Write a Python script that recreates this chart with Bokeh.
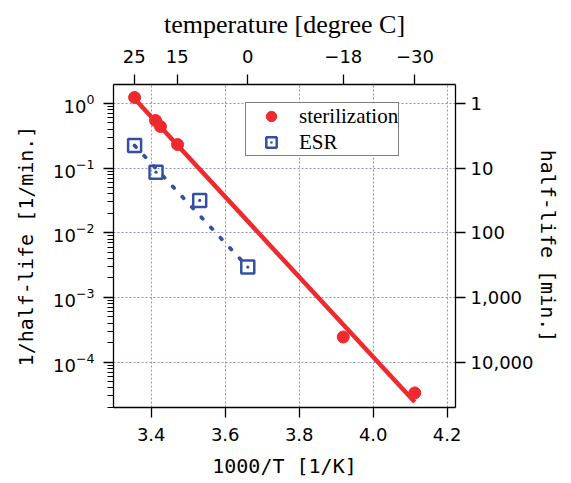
import numpy as np
from bokeh.plotting import figure
from bokeh.models import (LogAxis, LinearAxis, FixedTicker, Range1d, Legend,
                          LegendItem, NumeralTickFormatter)
from bokeh.embed import file_html
from bokeh.resources import INLINE

# ---- data ----
ster_x = [3.355, 3.4116, 3.425, 3.4711, 3.919, 4.1124]      # 1000/T [1/K]
ster_y = [1.24, 0.546, 0.441, 0.232, 2.44e-4, 3.33e-5]      # 1/half-life [1/min]
esr_x = [3.355, 3.413, 3.531, 3.661]
esr_y = [0.224, 0.0867, 0.0317, 0.00295]

x_ticks = [3.4, 3.6, 3.8, 4.0, 4.2]
temp_ticks_c = [25, 15, 0, -18, -30]
temp_labels = ["25", "15", "0", "\u221218", "\u221230"]
halflife_ticks = [1, 10, 100, 1000, 10000]
halflife_labels = ["1", "10", "100", "1,000", "10,000"]

RED = "#EE2A2E"
BLUE = "#3450A2"
GRID = "#9090CC"
SANS = "DejaVu Sans"
MONO = "DejaVu Sans Mono"
SERIF = "Liberation Serif"

# regression line for sterilization (Arrhenius fit)
coef = np.polyfit(np.array(ster_x), np.log10(np.array(ster_y)), 1)
fit_x = [min(ster_x), max(ster_x)]
fit_y = [10 ** np.polyval(coef, v) for v in fit_x]

p = figure(frame_width=342, frame_height=323,
           x_range=Range1d(3.298, 4.2225), y_range=Range1d(1.98e-5, 1.97),
           y_axis_type="log", output_backend="svg", toolbar_location=None,
           min_border_left=113, min_border_right=110,
           min_border_top=84, min_border_bottom=71,
           background_fill_color="white", border_fill_color="white")
p.outline_line_color = None

# lines
p.line(fit_x, fit_y, line_color=RED, line_width=4.5)
p.line([esr_x[0], esr_x[-1]], [esr_y[0], esr_y[-1]], line_color=BLUE,
       line_width=3.8, line_dash="2 12", line_cap="round")

r_ster = p.scatter(ster_x, ster_y, marker="circle", size=12,
                   fill_color=RED, line_color=RED)
r_esr = p.scatter(esr_x, esr_y, marker="square_dot", size=13,
                  fill_color=None, line_color=BLUE, line_width=2.5)

# grids
for g in (p.xgrid[0], p.ygrid[0]):
    g.grid_line_color = GRID
    g.grid_line_dash = "2 2"
    g.grid_line_width = 1

# bottom axis
xa = p.xaxis[0]
xa.ticker = FixedTicker(ticks=x_ticks)
xa.formatter = NumeralTickFormatter(format="0.0")
xa.axis_label = "1000/T [1/K]"

# left axis
ya = p.yaxis[0]
ya.axis_label = "1/half-life [1/min.]"

# top axis
top = LinearAxis(ticker=FixedTicker(ticks=[1000.0 / (c + 273.15) for c in temp_ticks_c]),
                 major_label_overrides={1000.0 / (c + 273.15): lab
                                        for c, lab in zip(temp_ticks_c, temp_labels)},
                 axis_label="temperature [degree C]")
p.add_layout(top, "above")

# right axis
right = LogAxis(ticker=FixedTicker(ticks=[1.0 / h for h in halflife_ticks]),
                major_label_overrides={1.0 / h: lab
                                       for h, lab in zip(halflife_ticks, halflife_labels)},
                axis_label="half-life [min.]")
p.add_layout(right, "right")

for ax in (xa, ya, top, right):
    ax.axis_line_color = "black"
    ax.axis_line_width = 1.3
    ax.major_tick_line_color = "black"
    ax.major_tick_line_width = 1.3
    ax.major_tick_in = 0
    ax.major_tick_out = 10
    ax.minor_tick_in = 0
    ax.minor_tick_out = 6
    ax.major_label_text_font = SANS
    ax.major_label_text_font_size = "18px"
    ax.major_label_text_color = "black"
    ax.axis_label_text_font = MONO
    ax.axis_label_text_font_size = "20px"
    ax.axis_label_text_font_style = "normal"
    ax.axis_label_text_color = "black"

xa.minor_tick_line_color = None
top.minor_tick_line_color = None
right.minor_tick_line_color = None
ya.minor_tick_line_color = "black"

xa.major_label_standoff = 10
xa.axis_label_standoff = 10
ya.major_label_standoff = 9
ya.axis_label_standoff = 12
top.major_label_standoff = 12
top.axis_label_standoff = 8
top.axis_label_text_font = SERIF
top.axis_label_text_font_size = "26px"
right.major_label_standoff = 5
right.axis_label_standoff = 0

legend = Legend(items=[LegendItem(label="sterilization", renderers=[r_ster]),
                       LegendItem(label="ESR", renderers=[r_esr])],
                location=(132, 251))
legend.border_line_color = "black"
legend.border_line_width = 1.2
legend.background_fill_color = "white"
legend.background_fill_alpha = 1.0
legend.padding = 0
legend.margin = 0
legend.spacing = 0
legend.glyph_width = 50
legend.glyph_height = 26
legend.label_height = 20
legend.label_standoff = 3
legend.label_text_font = SERIF
legend.label_text_font_size = "21px"
legend.label_text_color = "black"
p.add_layout(legend)

open("out.html", "w").write(file_html(p, INLINE))
